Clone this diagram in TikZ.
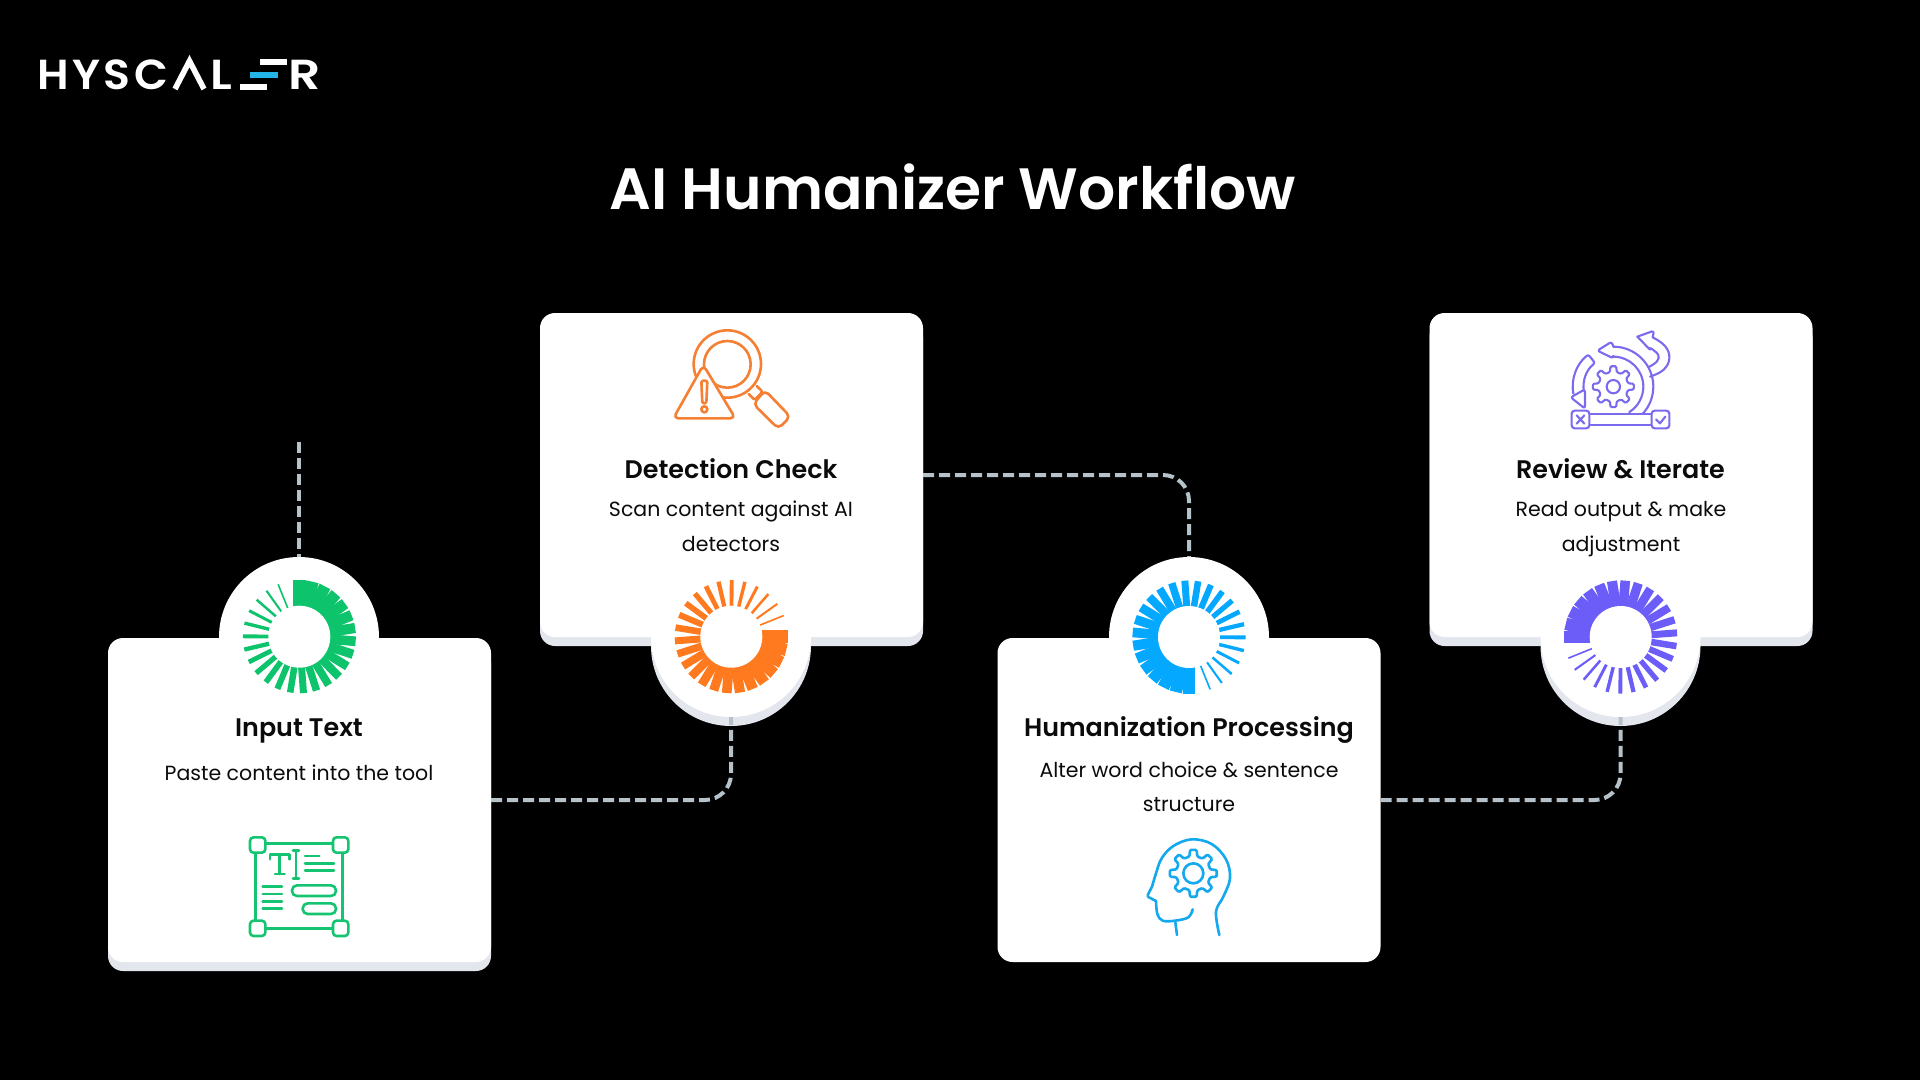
\documentclass[tikz,border=0pt]{standalone}
\usepackage{fontspec}
\setmainfont{Poppins}
\newfontfamily\semibold{Poppins SemiBold}
\newfontfamily\logofont[LetterSpace=8]{Poppins SemiBold}
\definecolor{cgreen}{HTML}{0DC46C}
\definecolor{corange}{HTML}{FF7A1F}
\definecolor{cblue}{HTML}{05A8FF}
\definecolor{cpurple}{HTML}{6C5CF8}
\definecolor{igreen}{HTML}{14C470}
\definecolor{iorange}{HTML}{F58033}
\definecolor{iblue}{HTML}{14A8EE}
\definecolor{ipurple}{HTML}{7A6BEE}
\definecolor{shadowc}{HTML}{E4E6EE}
\definecolor{dashc}{HTML}{B6C2CA}
\definecolor{ink}{HTML}{0B0B0B}
\definecolor{logoblue}{HTML}{23B5EA}
\tikzset{
  card/.style={rectangle,rounded corners=15pt,fill=white,minimum width=383pt,minimum height=324pt,inner sep=0pt,outer sep=0pt},
  cardshadow/.style={card,fill=shadowc},
  disc/.style={circle,fill=white,minimum size=160pt,inner sep=0pt,outer sep=0pt},
  discshadow/.style={disc,fill=shadowc},
  link/.style={draw=dashc,line width=4pt,dash pattern=on 11pt off 5pt,rounded corners=26pt},
  heading/.style={font=\semibold\fontsize{25.4}{30}\selectfont,text=ink,inner sep=0pt,anchor=base},
  body/.style={font=\fontsize{20.5}{24}\selectfont,text=ink,inner sep=0pt,anchor=base},
  logotxt/.style={font=\logofont\fontsize{42}{42}\selectfont,text=white,inner sep=0pt,anchor=base west},
  iconscale/.style={x=0.33333pt,y=-0.33333pt,line cap=round,line join=round},
}
% ring: centre x, centre y, clockwise rotation, colour
\newcommand{\spinner}[4]{%
  \begin{scope}[shift={(#1,#2)},x=1pt,y=1pt]
    \foreach \k in {0,...,25}{%
      \pgfmathsetmacro{\ang}{22+13.52*\k-#3}
      \pgfmathsetmacro{\wd}{0.8+0.224*\k}
      \fill[#4,rotate=\ang] (-\wd,18) rectangle (\wd,56.5);
    }
    \fill[white] (0,0) circle (31);
  \end{scope}}
% gear in icon units: cx cy outer root
\newcommand{\gearshape}[4]{%
  \draw[shift={(#1,#2)},rounded corners=1.2pt] (-22.5:#4)
    \foreach \a in {0,45,...,315}{ -- (\a-13:#4) -- (\a-8:#3) -- (\a+8:#3) -- (\a+13:#4) } -- cycle;}
\begin{document}
\begin{tikzpicture}[x=1pt,y=-1pt]
\useasboundingbox (0,0) rectangle (1920,1080);
\fill[black] (0,0) rectangle (1920,1080);

% logo
\node[logotxt] (logoA) at (37,89) {\scalebox{1.05}[1]{HYSC}};
\draw[white,line width=5.6pt,miter limit=10] (175,89) -- (189.5,61) -- (204,89);
\node[logotxt] (logoB) at (210,89) {\scalebox{1.13}[1]{L}};
\fill[white] (260,59) rectangle (287,65);
\fill[logoblue] (250,72) rectangle (278,78);
\fill[white] (240,84) rectangle (267,89.5);
\node[logotxt] (logoC) at (288,89) {\scalebox{1.2}[1]{R}};

% title
\node[font=\semibold\fontsize{58.3}{66}\selectfont,text=white,inner sep=0pt] (title) at (953,187) {AI Humanizer Workflow};

% shadows
\node[cardshadow] (shInput) at (299.5,809) {};
\node[cardshadow] (shDetect) at (731.5,484) {};
\node[discshadow] (sdDetect) at (731,646) {};
\node[cardshadow] (shReview) at (1621,484) {};
\node[discshadow] (sdReview) at (1620.5,646) {};

% cards and discs
\node[card] (input) at (299.5,800) {};
\node[disc] (dInput) at (299,637) {};
\node[card] (detect) at (731.5,475) {};
\node[disc] (dDetect) at (731,637) {};
\node[card] (human) at (1189,800) {};
\node[disc] (dHuman) at (1189,637) {};
\node[card] (review) at (1621,475) {};
\node[disc] (dReview) at (1620.5,637) {};

% connectors
\coordinate (freeTop) at (299,442);
\draw[link] (freeTop) -- (dInput.north);
\draw[link] (input.east) -| (dDetect.south);
\draw[link] (detect.east) -| (dHuman.north);
\draw[link] (human.east) -| (dReview.south);

% spinners
\spinner{299.3}{636.7}{0}{cgreen}
\spinner{731.3}{636.7}{90}{corange}
\spinner{1189}{637}{180}{cblue}
\spinner{1620.7}{637}{270}{cpurple}

% texts
\node[heading] (hInput) at (299,736.4) {Input Text};
\node[body] (bInput) at (299,780.7) {Paste content into the tool};
\node[heading] (hDetect) at (731,478) {Detection Check};
\node[body] (bDetectA) at (731,516.7) {Scan content against AI};
\node[body] (bDetectB) at (731,551) {detectors};
\node[heading] (hHuman) at (1189,736.4) {Humanization Processing};
\node[body] (bHumanA) at (1189,777) {Alter word choice \& sentence};
\node[body] (bHumanB) at (1189,811) {structure};
\node[heading] (hReview) at (1620.5,478) {Review \& Iterate};
\node[body] (bReviewA) at (1621,516.7) {Read output \& make};
\node[body] (bReviewB) at (1621,551) {adjustment};

% text icon
\begin{scope}[shift={(220,810)},iconscale,draw=igreen,line width=2.6pt]
  \draw (107,105) -- (107,355) (113,355) -- (362,355) (368,355) -- (368,105) (362,100) -- (113,100);
  \foreach \px/\py in {113/105,362/105,113/355,362/355}{
    \draw[fill=white,rounded corners=3.5pt] (\px-23,\py-23) rectangle (\px+23,\py+23);}
  \draw (150,148) -- (150,133) -- (208,133) -- (208,148) (179,133) -- (179,192) (165,192) -- (194,192);
  \draw (228,122) -- (228,205) (219,122) -- (237,122) (219,205) -- (237,205);
  \draw (255,138) -- (298,138) (255,160) -- (342,160) (255,182) -- (342,182);
  \draw (128,230) -- (186,230) (128,252) -- (186,252) (128,274) -- (186,274) (128,295) -- (186,295);
  \draw[rounded corners=5pt] (216,226) rectangle (348,258);
  \draw[rounded corners=5pt] (248,280) rectangle (348,312);
\end{scope}

% magnifier icon
\begin{scope}[shift={(650,310)},iconscale,draw=iorange,line width=2.6pt]
  \draw (232,162) circle (101);
  \draw (232,163) circle (70);
  \draw[rounded corners=2pt] (320,228) -- (338,245) -- (314,270) -- (296,252);
  \draw[rounded corners=5pt,fill=white] (345,241) -- (421,320) -- (385,356) -- (310,282) -- cycle;
  \draw[fill=white,rounded corners=5pt] (160,165) -- (70,325) -- (256,325) -- cycle;
  \draw[rounded corners=2pt] (154,212) -- (172,212) -- (169,280) -- (157,280) -- cycle;
  \draw (163,298) circle (9);
\end{scope}

% head icon
\begin{scope}[shift={(1120,830)},iconscale,draw=iblue,line width=2.6pt]
  \draw plot[smooth,tension=0.6] coordinates {(218,238) (205,262) (165,272) (128,272) (112,252) (108,213)};
  \draw[rounded corners=2pt] (108,213) -- (81,199) -- (96,170);
  \draw plot[smooth,tension=0.6] coordinates {(96,170) (108,130) (125,85) (160,48) (215,28) (275,42) (318,88) (330,145) (310,200) (288,245) (298,315)};
  \draw (166,277) -- (171,315);
  \gearshape{220}{130}{71}{52}
  \draw (220,130) circle (30);
\end{scope}

% iterate icon
\begin{scope}[shift={(1550,320)},iconscale,draw=ipurple,line width=2.1pt]
  \draw (190,80) arc[start angle=-90,end angle=62,radius=120];
  \draw (190,110) arc[start angle=-90,end angle=58,radius=90];
  \draw[rounded corners=2.5pt] (190,80) -- (185,65) -- (142,92) -- (190,115) -- (190,110);
  \draw[rounded corners=2pt] (70,221) arc[start angle=170,end angle=232,radius=122] -- (135,129) arc[start angle=232,end angle=170,radius=90];
  \draw[rounded corners=2.5pt,fill=white] (105,208) -- (62,232) -- (105,266) -- cycle;
  \draw[rounded corners=2.5pt] (262,50) -- (312,32) -- (308,52);
  \draw[rounded corners=2.5pt] (262,50) -- (303,92) -- (300,84);
  \draw plot[smooth,tension=0.7] coordinates {(308,52) (345,78) (358,115) (340,150) (300,170)};
  \draw plot[smooth,tension=0.7] coordinates {(303,85) (325,105) (320,125) (298,140)};
  \gearshape{190}{200}{62}{45}
  \draw (190,200) circle (20);
  \draw[fill=white] (118,282) rectangle (305,315);
  \draw[fill=white,rounded corners=3pt] (65,272) rectangle (118,325);
  \draw[fill=white,rounded corners=3pt] (305,272) rectangle (358,325);
  \draw (80,286) -- (103,311) (103,286) -- (80,311);
  \draw (318,298) -- (330,310) -- (346,290);
\end{scope}
\end{tikzpicture}
\end{document}
